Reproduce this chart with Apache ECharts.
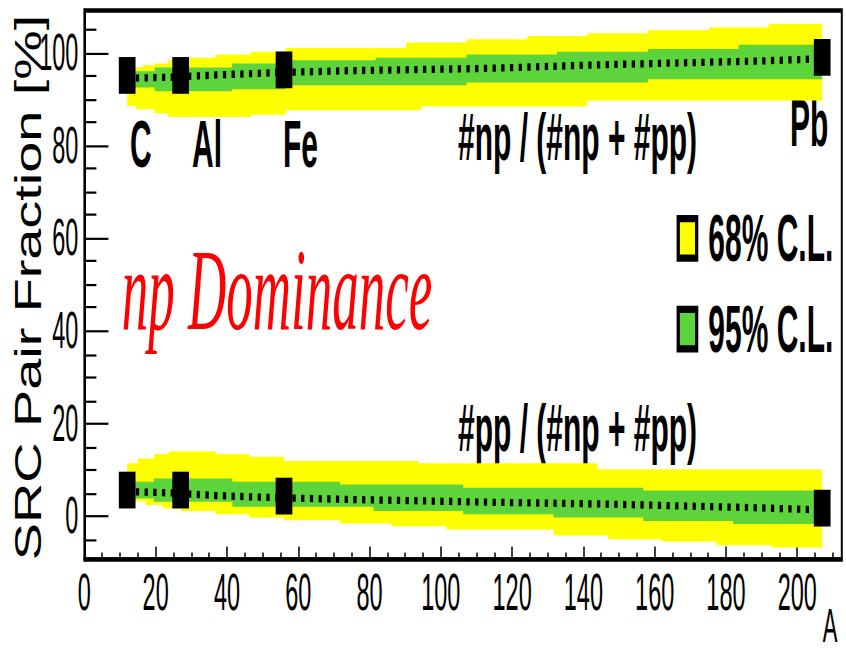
<!DOCTYPE html>
<html>
<head>
<meta charset="utf-8">
<script src="https://cdn.jsdelivr.net/npm/echarts@6/dist/echarts.min.js"></script>
<style>
html, body { margin: 0; padding: 0; background: #fff; }
#page { width: 846px; height: 656px; position: relative; overflow: hidden; }
/* the reference is a ROOT plot stretched vertically, so draw it flat and stretch it */
#chart { position: absolute; left: 0; top: 0; width: 846px; height: 298px; transform: scaleY(2.2013); transform-origin: 0 0; }
</style>
</head>
<body>
<div id="page"><div id="chart"></div></div>
<script>
var nuclei = ['C', 'Al', 'Fe', 'Pb'];
var nucleiA = [12, 27, 56, 207];
var npFraction = [95.1, 95.1, 96.3, 99.0];
var ppFraction = [5.6, 5.6, 4.3, 1.7];

// dotted central curves [A, %]
var npCenter = [[12, 94.5], [24, 94.7], [37, 95.2], [54, 95.7], [73, 96.1], [112, 96.6], [145, 97.4], [189, 98.2], [207, 98.7]];
var ppCenter = [[12, 5.3], [27, 4.9], [37, 4.4], [52, 4.0], [73, 3.6], [112, 3.0], [145, 2.6], [188, 1.8], [207, 1.3]];

// band edges as steps: [A where step starts, %]
var bandEndA = 207;
var npYellowHi = [[12, 96.8], [16.4, 97.3], [19.7, 97.7], [23.5, 98.4], [29.1, 98.9], [36.7, 99.6], [46.6, 100.2], [56.5, 101.0], [90.2, 102.2], [107.2, 102.9], [124.2, 103.6], [141.1, 104.2], [158.1, 104.9], [175.5, 105.5], [192, 106.2]];
var npYellowLo = [[12, 88.5], [14.5, 87.8], [19.7, 86.9], [23.5, 86.1], [46.6, 86.6], [56.5, 87.6], [94.5, 88.4], [141, 89.7]];
var npGreenHi = [[12, 96.0], [19.7, 96.8], [41.4, 97.7], [56.5, 98.4], [81.7, 98.9], [107.2, 99.6], [132.6, 100.2], [158.1, 100.8], [183.5, 101.7]];
var npGreenLo = [[12, 92.5], [19.7, 91.7], [41.4, 92.1], [56.5, 93.0], [107.2, 93.6], [158.1, 94.3]];
var ppYellowHi = [[12, 11.4], [14.9, 12.4], [19.5, 13.4], [23.7, 14.0], [36.8, 13.4], [46.2, 12.8], [56.0, 11.9], [93.7, 11.4], [144, 10.1]];
var ppYellowLo = [[12, 3.2], [17.2, 2.4], [21.9, 1.65], [27.0, 1.1], [36.8, 0.4], [46.2, -0.3], [56.0, -0.9], [71.7, -1.6], [86.2, -2.2], [101.6, -2.9], [131.6, -4.2], [147, -5.0], [161.9, -5.5], [177.4, -6.3], [192.8, -6.8]];
var ppGreenHi = [[12, 7.4], [19.5, 8.1], [41.5, 7.4], [71.7, 6.8], [106.3, 6.1], [156.8, 5.5]];
var ppGreenLo = [[12, 3.8], [19.5, 3.1], [41.5, 2.0], [81.1, 1.1], [106.3, 0.4], [131.6, -0.3], [156.8, -1.1], [182.0, -1.7]];

var xTicks = [0, 20, 40, 60, 80, 100, 120, 140, 160, 180, 200];
var xMinorTicks = [5, 10, 15, 25, 30, 35, 45, 50, 55, 65, 70, 75, 85, 90, 95, 105, 110, 115, 125, 130, 135, 145, 150, 155, 165, 170, 175, 185, 190, 195, 205, 210];
var yTicks = [0, 20, 40, 60, 80, 100];
var yMinorTicks = [-5, 5, 10, 15, 25, 30, 35, 45, 50, 55, 65, 70, 75, 85, 90, 95, 105];

var YELLOW = '#ffff00';
var GREEN = '#5dd43c';
var FONT = '"Liberation Sans", Arial, Helvetica, sans-serif';

function stepPoints(steps) {
    var pts = [];
    steps.forEach(function (s, i) {
        var next = i + 1 < steps.length ? steps[i + 1][0] : bandEndA;
        pts.push([s[0], s[1]], [next, s[1]]);
    });
    return pts;
}

function bandPoints(hi, lo) {
    return stepPoints(hi).concat(stepPoints(lo).reverse());
}

var yellowBands = [bandPoints(npYellowHi, npYellowLo), bandPoints(ppYellowHi, ppYellowLo)];
var greenBands = [bandPoints(npGreenHi, npGreenLo), bandPoints(ppGreenHi, ppGreenLo)];

function bandSeries(name, bands, color, z) {
    return {
        name: name,
        type: 'custom',
        z: z,
        silent: true,
        itemStyle: {color: color},
        data: bands.map(function (b, i) { return [i, i]; }),
        renderItem: function (params, api) {
            var pts = bands[params.dataIndex].map(function (p) { return api.coord(p); });
            return {type: 'polygon', shape: {points: pts}, style: {fill: color}};
        }
    };
}

function pairs(xs, ys) {
    return xs.map(function (x, i) { return [x, ys[i]]; });
}

var tickLabel = {fontSize: 23.5, fontFamily: FONT, color: '#000'};

var chart = echarts.init(document.getElementById('chart'), null, {renderer: 'svg'});

var option = {
    backgroundColor: '#fff',
    animation: false,
    grid: {left: 84.4, right: 4.2, top: 4.8, bottom: 43.8, show: true, borderColor: '#000', borderWidth: 2},
    legend: {
        orient: 'vertical',
        left: 676.6,
        top: 93.3,
        padding: 0,
        itemGap: 11.2,
        itemWidth: 18.4,
        itemHeight: 18,
        selectedMode: false,
        itemStyle: {borderColor: '#000', borderWidth: 3.3},
        textStyle: {fontSize: 30, fontWeight: 'bold', fontFamily: FONT, color: '#000', padding: [0, 0, 0, 6.7]},
        data: [{name: '68% C.L.', icon: 'rect'}, {name: '95% C.L.', icon: 'rect'}]
    },
    xAxis: [{
        type: 'value', min: 0, max: 212.5, position: 'bottom',
        name: 'A', nameLocation: 'end', nameGap: -14,
        nameTextStyle: {fontSize: 22, fontFamily: FONT, color: '#000', align: 'center', verticalAlign: 'top', padding: [19, 0, 0, 0]},
        axisLine: {onZero: false, lineStyle: {color: '#000', width: 1.6}},
        axisTick: {inside: true, length: 5.9, customValues: xTicks, lineStyle: {color: '#000', width: 1.5}},
        axisLabel: Object.assign({customValues: xTicks, margin: 3}, tickLabel),
        splitLine: {show: false}
    }, {
        type: 'value', min: 0, max: 212.5, position: 'bottom',
        axisLine: {show: false, onZero: false},
        axisTick: {inside: true, length: 3.2, customValues: xMinorTicks, lineStyle: {color: '#000', width: 1.5}},
        axisLabel: {show: false},
        splitLine: {show: false}
    }],
    yAxis: [{
        type: 'value', min: -9.4, max: 109.1, position: 'left',
        axisLine: {onZero: false, lineStyle: {color: '#000', width: 2}},
        axisTick: {inside: true, length: 24, customValues: yTicks, lineStyle: {color: '#000', width: 1}},
        axisLabel: Object.assign({customValues: yTicks, margin: 6}, tickLabel),
        splitLine: {show: false}
    }, {
        type: 'value', min: -9.4, max: 109.1, position: 'left',
        axisLine: {show: false, onZero: false},
        axisTick: {inside: true, length: 12, customValues: yMinorTicks, lineStyle: {color: '#000', width: 1}},
        axisLabel: {show: false},
        splitLine: {show: false}
    }],
    series: [
        bandSeries('68% C.L.', yellowBands, YELLOW, 1),
        bandSeries('95% C.L.', greenBands, GREEN, 2),
        {
            type: 'line', z: 3, silent: true, showSymbol: false, data: npCenter,
            lineStyle: {color: '#000', width: 3.3, type: [3.3, 5.4]}
        },
        {
            type: 'line', z: 3, silent: true, showSymbol: false, data: ppCenter,
            lineStyle: {color: '#000', width: 3.3, type: [3.3, 5.4]}
        },
        {
            type: 'scatter', z: 4, silent: true, symbol: 'rect', symbolSize: 16.7,
            itemStyle: {color: '#000', opacity: 1}, data: pairs(nucleiA, npFraction)
        },
        {
            type: 'scatter', z: 4, silent: true, symbol: 'rect', symbolSize: 16.7,
            itemStyle: {color: '#000', opacity: 1}, data: pairs(nucleiA, ppFraction)
        }
    ],
    graphic: [
        {type: 'text', x: 28.3, y: 130.6, rotation: Math.PI / 2, scaleX: 0.685,
            style: {text: 'SRC Pair Fraction [%]', font: '37px ' + FONT, fill: '#000', textAlign: 'center', textVerticalAlign: 'middle'}},
        {type: 'text', x: 130, y: 65.5, style: {text: nuclei[0], font: 'bold 30px ' + FONT, fill: '#000', textVerticalAlign: 'middle'}},
        {type: 'text', x: 192, y: 65.5, style: {text: nuclei[1], font: 'bold 30px ' + FONT, fill: '#000', textVerticalAlign: 'middle'}},
        {type: 'text', x: 283, y: 65.5, style: {text: nuclei[2], font: 'bold 30px ' + FONT, fill: '#000', textVerticalAlign: 'middle'}},
        {type: 'text', x: 790, y: 56.3, style: {text: nuclei[3], font: 'bold 30px ' + FONT, fill: '#000', textVerticalAlign: 'middle'}},
        {type: 'text', x: 458, y: 62.3, style: {text: '#np / (#np + #pp)', font: 'bold 30px ' + FONT, fill: '#000', textVerticalAlign: 'middle'}},
        {type: 'text', x: 458, y: 194.6, style: {text: '#pp / (#np + #pp)', font: 'bold 30px ' + FONT, fill: '#000', textVerticalAlign: 'middle'}},
        {type: 'text', x: 121.7, y: 131.5, style: {text: 'np Dominance', font: 'italic 53px "Liberation Serif", "Times New Roman", serif', fill: '#ff0000', textVerticalAlign: 'middle'}}
    ]
};

chart.setOption(option);
</script>
</body>
</html>
